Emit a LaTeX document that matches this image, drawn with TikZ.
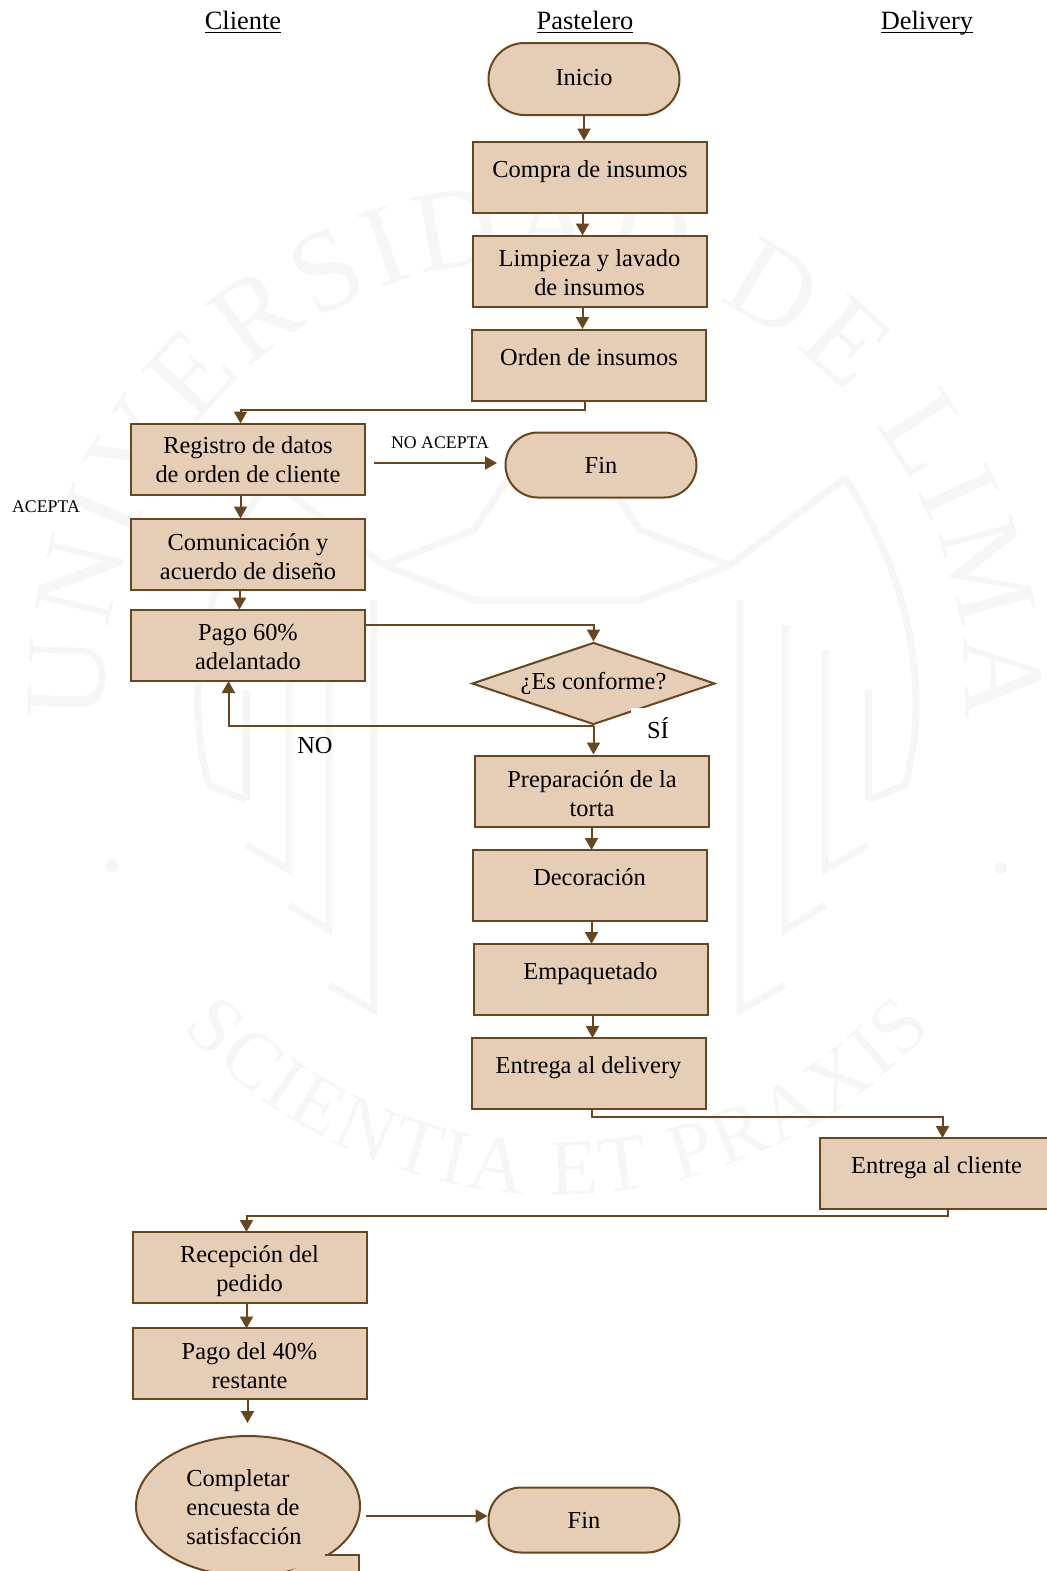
\documentclass[tikz,border=0pt]{standalone}
\usepackage{fontspec}
\setmainfont{Liberation Serif}
\usetikzlibrary{shapes.geometric,shapes.misc,arrows.meta,decorations.text}
\definecolor{relleno}{HTML}{E6CDB5}
\definecolor{linea}{HTML}{68461F}
\definecolor{marca}{HTML}{F6F6F6}
\newcommand{\sola}[1]{#1\\[-6.5pt]\mbox{}}
\newcommand{\baja}[1]{\rule{0pt}{#1}}
\tikzset{
  caja/.style={draw=linea, fill=relleno, line width=1pt, minimum width=117pt, minimum height=35.5pt, inner sep=0pt, align=center, font=\fontsize{12.2}{14.5}\selectfont},
  terminal/.style={draw=linea, fill=relleno, line width=1pt, rounded rectangle, minimum width=95.5pt, inner sep=0pt, align=center, font=\fontsize{12.2}{14.5}\selectfont},
  rombo/.style={draw=linea, fill=relleno, line width=1pt, diamond, aspect=2.95, minimum width=121.5pt, minimum height=41pt, inner sep=0pt, font=\fontsize{12.2}{14.5}\selectfont},
  texto/.style={inner sep=0pt, font=\fontsize{12.2}{14.5}\selectfont},
  chico/.style={inner sep=0pt, font=\fontsize{8.9}{10}\selectfont},
  titulo/.style={inner sep=0pt, anchor=base, font=\fontsize{13.2}{15}\selectfont},
  flecha/.style={draw=linea, line width=1pt, -{Triangle[length=6pt,width=6.5pt]}},
  escudo/.style={draw=marca, line width=3.5pt},
}
\begin{document}
\begin{tikzpicture}[x=0.5pt,y=-0.5pt]
  \clip (0,0) rectangle (1047,1571);
  % marca de agua
  \path[postaction={decorate,decoration={text along path,text align=fit to path,
    text={|\fontsize{58}{58}\selectfont\color{marca}|UNIVERSIDAD DE LIMA}}}]
    (106,720) arc[start angle=176,end angle=364,radius=430];
  \path[postaction={decorate,decoration={text along path,text align=fit to path,
    text={|\fontsize{40}{40}\selectfont\color{marca}|SCIENTIA ET PRAXIS}}}]
    (182,1028) arc[start angle=138,end angle=42,radius=505];
  \draw[escudo] (845,478) .. controls (900,560) and (935,680) .. (905,785) -- (868,800);
  \draw[escudo] (269,478) .. controls (214,560) and (179,680) .. (209,785) -- (246,800);
  \draw[escudo] (845,478) -- (730,565) -- (640,530) -- (600,470) -- (514,470) -- (474,530) -- (384,565) -- (269,478);
  \draw[escudo] (730,565) -- (640,600) -- (474,600) -- (384,565);
  \draw[escudo] (374,600) -- (374,1010) -- (329,985);
  \draw[escudo] (329,625) -- (329,930) -- (289,905);
  \draw[escudo] (289,650) -- (289,870) -- (246,845);
  \draw[escudo] (246,690) -- (246,800);
  \draw[escudo] (740,600) -- (740,1010) -- (785,985);
  \draw[escudo] (785,625) -- (785,930) -- (825,905);
  \draw[escudo] (825,650) -- (825,870) -- (868,845);
  \draw[escudo] (868,690) -- (868,800);
  \fill[marca] (112,866) circle (6) (1001,868) circle (6);
  % columnas
  \node[titulo] (cliente) at (243,29.5) {\underline{Cliente}};
  \node[titulo] (pastelero) at (585,29.5) {\underline{Pastelero}};
  \node[titulo] (delivery) at (927,29.5) {\underline{\smash{Delivery}}};
  % pastelero
  \node[terminal, minimum height=36pt] (inicio) at (584,79) {Inicio\\[-12.5pt]\mbox{}};
  \node[caja] (compra) at (590,177) {\sola{Compra de insumos}};
  \node[caja] (limpieza) at (589.5,271) {\baja{10pt}Limpieza y lavado\\de insumos};
  \node[caja] (orden) at (589,365) {\sola{Orden de insumos}};
  % cliente
  \node[caja] (registro) at (248,459) {\baja{9pt}Registro de datos\\de orden de cliente};
  \node[terminal, minimum height=32.5pt] (fin) at (601,465) {Fin};
  \node[caja] (comunicacion) at (248,554) {\baja{11pt}Comunicación y\\acuerdo de diseño};
  \node[caja] (pago) at (248,645) {\baja{10pt}Pago 60\%\\adelantado};
  \node[chico] (noacepta) at (440,443) {NO ACEPTA};
  \node[chico] (acepta) at (46,507) {ACEPTA};
  % conformidad
  \node[rombo] (conforme) at (593.5,683.5) {¿Es conforme?};
  \node[fill=white, minimum width=37.5pt, minimum height=21.5pt, inner sep=0pt] (si) at (668,729) {};
  \node[texto] (sitexto) at (658,728) {SÍ};
  \node[texto] (notexto) at (315,745.5) {NO};
  \node[caja] (preparacion) at (592,791) {\baja{11pt}Preparación de la\\torta};
  \node[caja] (decoracion) at (589.5,885.5) {\sola{Decoración}};
  \node[caja] (empaquetado) at (590.5,979.5) {\sola{Empaquetado}};
  \node[caja] (entrega) at (588.5,1073.5) {\sola{Entrega al delivery}};
  % delivery
  \node[caja] (entregacliente) at (936.5,1173.5) {\sola{Entrega al cliente}};
  % cierre
  \node[caja] (recepcion) at (249.5,1267.5) {\baja{12.5pt}Recepción del\\pedido};
  \node[caja] (pagofinal) at (249.5,1363.5) {\baja{10.5pt}Pago del 40\%\\restante};
  \node[ellipse, draw=linea, fill=relleno, line width=1pt, minimum width=112pt, minimum height=70pt, inner sep=0pt] (encuesta) at (248,1506) {};
  \fill[relleno] (325,1555) -- (359,1555) -- (359,1580) -- (270,1580) -- cycle;
  \draw[draw=linea, line width=1pt] (325,1555) -- (359,1555) -- (359,1580);
  \node[texto, anchor=west, align=left] (encuestatexto) at (186,1507.5) {Completar\\encuesta de\\satisfacción};
  \node[terminal, minimum height=32.5pt] (finfinal) at (584,1520) {Fin};
  % extremos libres
  \coordinate (salidafin) at (374,463);
  \coordinate (llegadafin) at (497,463);
  \coordinate (llegadaencuesta) at (247.5,1423);
  \coordinate (salidaencuesta) at (366,1516);
  % conectores
  \draw[flecha] (inicio.south) -- (inicio.south |- compra.north);
  \draw[flecha] (582.5,213) -- (582.5,235.5);
  \draw[flecha] (582.5,307) -- (582.5,329);
  \draw[flecha] (584.5,401) -- (584.5,410) -| (240.5,423.5);
  \draw[flecha] (salidafin) -- (llegadafin);
  \draw[flecha] (240.5,494.5) -- (240.5,518.5);
  \draw[flecha] (239.5,589.5) -- (239.5,609.5);
  \draw[flecha] (365.5,625) -| (conforme.north);
  \draw[flecha] (conforme.south) -| (228.5,681);
  \draw[flecha] (conforme.south) -- (conforme.south |- preparacion.north);
  \draw[flecha] (591.5,826.5) -- (591.5,850);
  \draw[flecha] (591.5,921) -- (591.5,944);
  \draw[flecha] (592.5,1015) -- (592.5,1038);
  \draw[flecha] (591.5,1109) -- (591.5,1116.5) -| (942.5,1138);
  \draw[flecha] (947.5,1209) -- (947.5,1215.5) -| (246.5,1232);
  \draw[flecha] (246.5,1303) -- (246.5,1328.5);
  \draw[flecha] (247.5,1399) -- (llegadaencuesta);
  \draw[flecha] (salidaencuesta) -- (finfinal.west |- salidaencuesta);
\end{tikzpicture}
\end{document}
